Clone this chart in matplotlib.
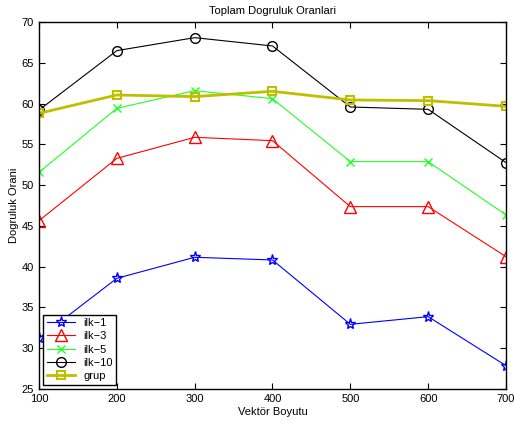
import matplotlib
matplotlib.use("Agg")
import matplotlib.pyplot as plt

plt.rcParams['font.family'] = ['Liberation Sans', 'DejaVu Sans']

x = [100, 200, 300, 400, 500, 600, 700]
ilk1 = [31.25, 38.57, 41.15, 40.82, 32.93, 33.87, 27.86]
ilk3 = [45.64, 53.28, 55.86, 55.45, 47.36, 47.36, 41.23]
ilk5 = [51.57, 59.41, 61.58, 60.60, 52.88, 52.88, 46.34]
ilk10 = [59.20, 66.49, 68.08, 67.06, 59.58, 59.29, 52.76]
grup = [58.80, 61.05, 60.85, 61.50, 60.44, 60.36, 59.66]

fig = plt.figure(figsize=(5.14, 4.23), dpi=100)
ax = fig.add_axes([0.0759, 0.0804, 0.9085, 0.8676])

ax.plot(x, ilk1, color='blue', marker='*', markersize=8, markerfacecolor='none', lw=0.8, label='ilk\u22121')
ax.plot(x, ilk3, color='red', marker='^', markersize=8, markerfacecolor='none', lw=0.8, label='ilk\u22123')
ax.plot(x, ilk5, color='#22ff22', marker='x', markersize=6, lw=0.8, label='ilk\u22125')
ax.plot(x, ilk10, color='black', marker='o', markersize=7, markerfacecolor='none', lw=0.8, label='ilk\u221210')
ax.plot(x, grup, color='#bfbf00', marker='s', markersize=6, markerfacecolor='none', markeredgewidth=1.5, lw=2, label='grup')

ax.set_xlim(100, 700)
ax.set_ylim(25, 70)
ax.set_xticks(x)
ax.set_yticks(range(25, 71, 5))
ax.tick_params(direction='in', top=True, right=True, labelsize=8, length=4)
for s in ax.spines.values():
    s.set_linewidth(1.0)
ax.set_title('Toplam Dogruluk Oranlari', fontsize=8)
ax.set_xlabel('Vektör Boyutu', fontsize=8, labelpad=2)
ax.set_ylabel('Dogruluk Orani', fontsize=8, labelpad=2)
leg = ax.legend(loc='lower left', fontsize=8, fancybox=False, framealpha=1,
                edgecolor='black', borderaxespad=0.4, handlelength=2.5,
                labelspacing=0.3, borderpad=0.3)
leg.get_frame().set_linewidth(1.0)

fig.savefig('out.png', dpi=100)
